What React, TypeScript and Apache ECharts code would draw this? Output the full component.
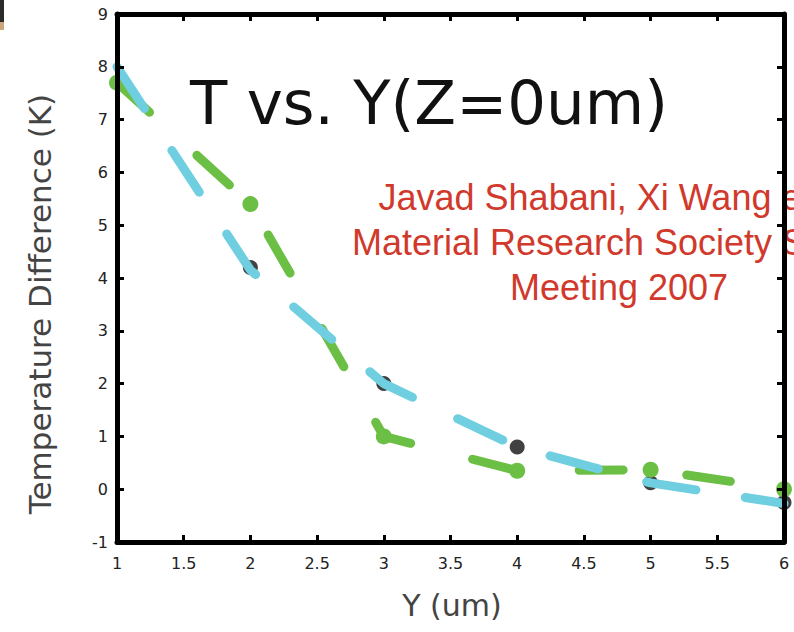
import React, { useEffect, useRef } from "react";
import * as echarts from "echarts";

const yPositions = [1, 2, 3, 4, 5, 6];
const cyanValues = [8.0, 4.15, 2.0, 0.8, 0.12, -0.27];
const greenValues = [7.7, 5.4, 1.0, 0.35, 0.37, 0.0];
const blackPositions = [2, 3, 4, 5, 6];
const blackValues = [4.2, 2.0, 0.8, 0.12, -0.25];

const titleText = "T vs. Y(Z=0um)";
const creditLines = ["Javad Shabani, Xi Wang et al.", "Material Research Society Spring", "Meeting 2007"];
const xAxisName = "Y (um)";
const yAxisName = "Temperature Difference (K)";

const pair = (xs: number[], vals: number[]) => xs.map((x, i) => [x, vals[i]]);

export default function App() {
  const ref = useRef<HTMLDivElement>(null);
  useEffect(() => {
    if (!ref.current) return;
    const chart = echarts.init(ref.current, undefined, { renderer: "svg" });
    const comic = "'DejaVu Sans', sans-serif";
    const axisCommon = {
      type: "value" as const,
      z: 10,
      splitLine: { show: false },
      axisLine: { show: true, onZero: false, lineStyle: { color: "#000", width: 5 } },
      axisTick: { show: true, inside: true, length: 7, lineStyle: { color: "#000", width: 3 } },
    };
    chart.setOption({
      animation: false,
      backgroundColor: "#fff",
      grid: { left: 117, right: 10, top: 14, bottom: 90 },
      xAxis: [
        {
          ...axisCommon,
          position: "bottom",
          min: 1,
          max: 6,
          interval: 0.5,
          axisLabel: { color: "#222", fontFamily: comic, fontSize: 16, margin: 13 },
        },
        {
          ...axisCommon,
          position: "top",
          min: 1,
          max: 6,
          interval: 0.5,
          axisLabel: { show: false },
        },
      ],
      yAxis: [
        {
          ...axisCommon,
          position: "left",
          min: -1,
          max: 9,
          interval: 1,
          axisLabel: { color: "#222", fontFamily: comic, fontSize: 16, margin: 9 },
        },
        {
          ...axisCommon,
          position: "right",
          min: -1,
          max: 9,
          interval: 1,
          axisLabel: { show: false },
        },
      ],
      series: [
        {
          type: "scatter",
          name: "black",
          data: pair(blackPositions, blackValues),
          symbol: "circle",
          symbolSize: 15,
          itemStyle: { color: "#111" },
          z: 1,
        },
        {
          type: "line",
          name: "green",
          data: pair(yPositions, greenValues),
          symbol: "circle",
          symbolSize: 16,
          showSymbol: true,
          itemStyle: { color: "#6cbf45", borderWidth: 0 },
          lineStyle: { color: "#6cbf45", width: 9, type: [44, 64], cap: "round", join: "round" },
          z: 2,
        },
        {
          type: "line",
          name: "cyan",
          data: pair(yPositions, cyanValues),
          symbol: "none",
          lineStyle: { color: "#6fcfe0", width: 9, type: [50, 50], cap: "round", join: "round" },
          z: 3,
        },
      ],
      graphic: [
        { type: "rect", shape: { x: 0, y: 0, width: 4, height: 22 }, style: { fill: "#2b2b2b" }, z: 50 },
        { type: "rect", shape: { x: 0, y: 22, width: 4, height: 8 }, style: { fill: "#c9a77a" }, z: 50 },
        {
          type: "text",
          x: 190,
          y: 102,
          z: 20,
          style: {
            text: titleText,
            fill: "#111",
            font: `normal 61px ${comic}`,
            align: "left",
            verticalAlign: "middle",
          },
        },
        ...creditLines.map((t, i) => ({
          type: "text",
          x: 619,
          y: 197 + i * 45,
          z: 0,
          style: {
            text: t,
            fill: "#d0392b",
            font: "normal 36px 'Liberation Sans', Arial, sans-serif",
            align: "center",
            verticalAlign: "middle",
          },
        })),
        {
          type: "text",
          x: 40,
          y: 304,
          rotation: Math.PI / 2,
          style: {
            text: yAxisName,
            fill: "#444",
            font: `normal 31px ${comic}`,
            align: "center",
            verticalAlign: "middle",
          },
        },
        {
          type: "text",
          x: 452,
          y: 605,
          style: {
            text: xAxisName,
            fill: "#444",
            font: `normal 30px ${comic}`,
            align: "center",
            verticalAlign: "middle",
          },
        },
      ],
    });
    return () => chart.dispose();
  }, []);
  return (
    <div
      ref={ref}
      style={{ position: "fixed", left: 0, top: 0, width: 794, height: 632 }}
    />
  );
}
